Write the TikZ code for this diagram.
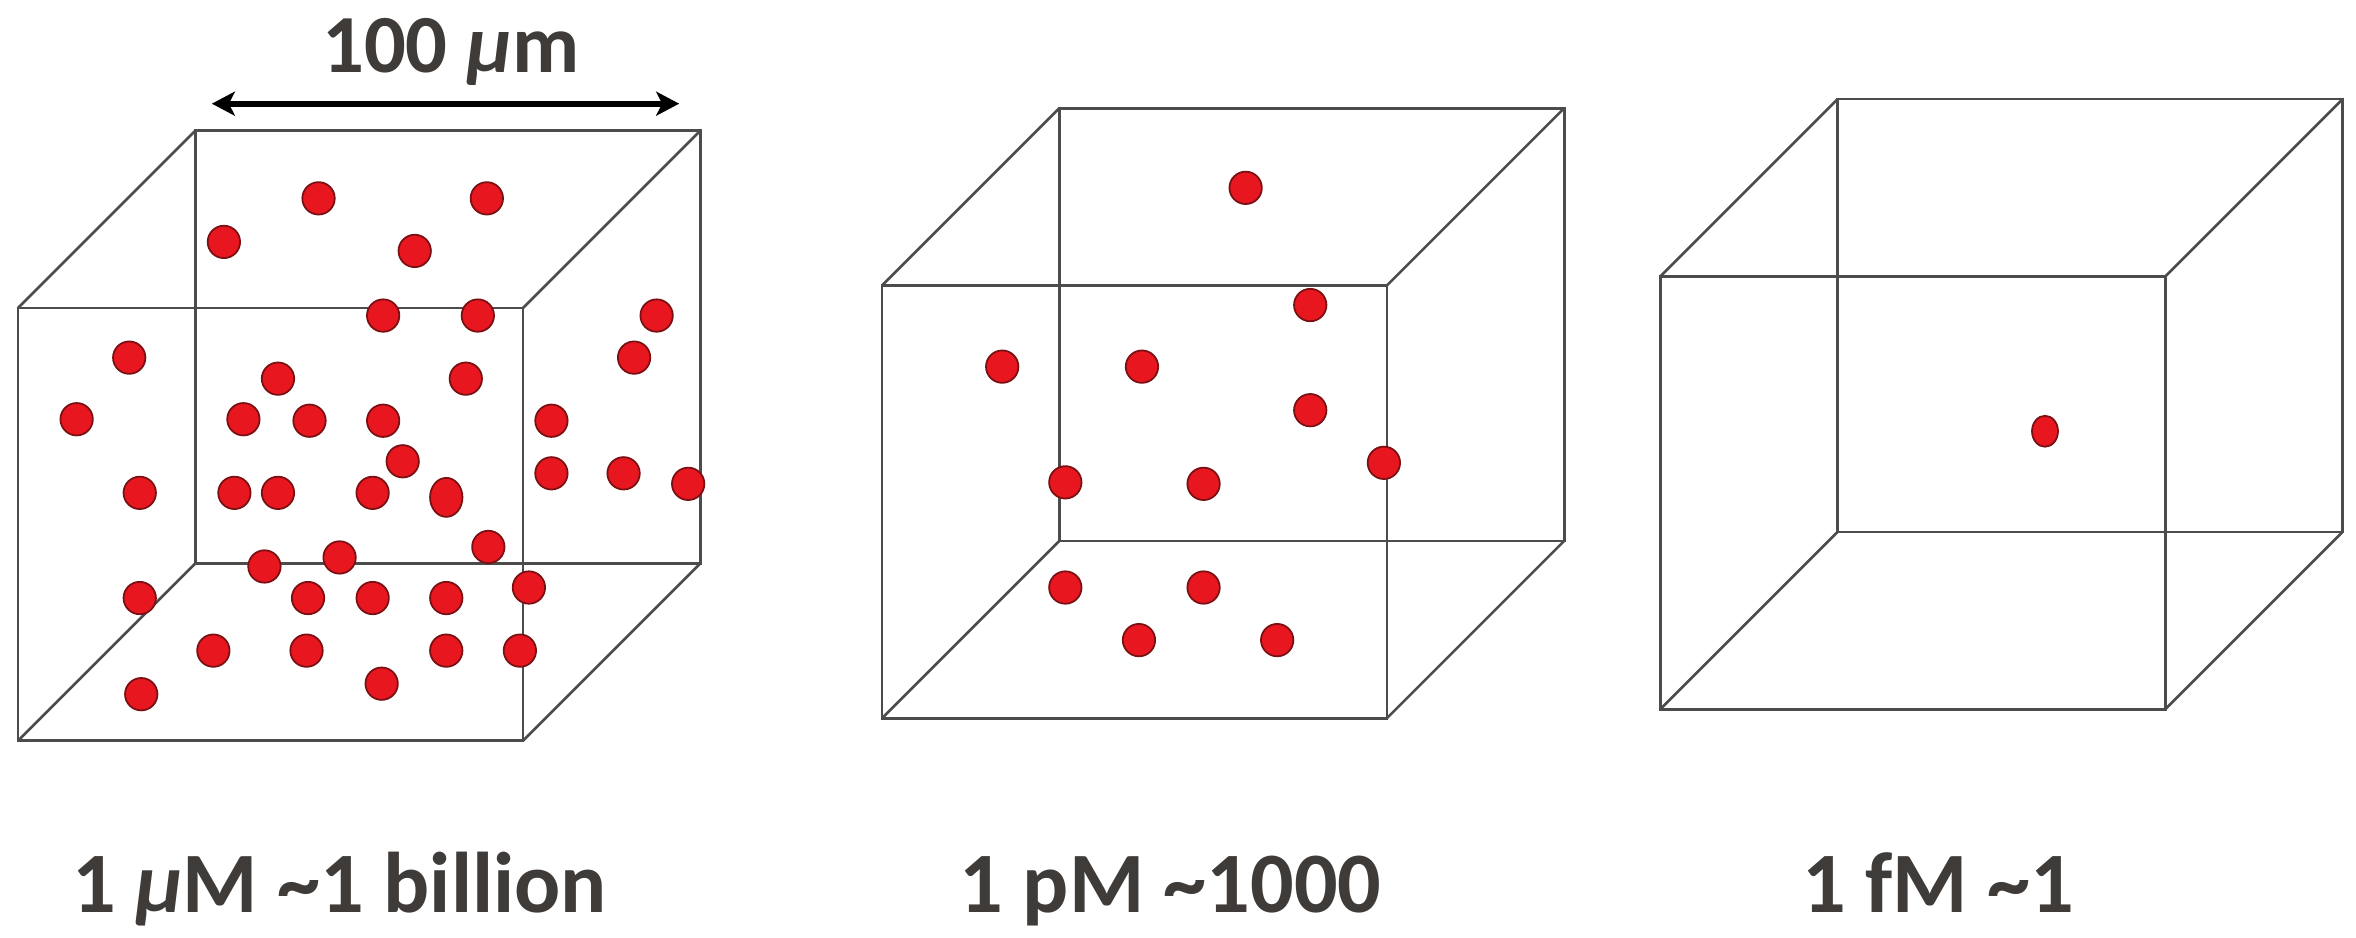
\documentclass[tikz,border=0pt]{standalone}
\usepackage{fontspec}
\setmainfont{Carlito}
\usepackage{xcolor}
\usepackage{tikz}
\usetikzlibrary{arrows.meta,positioning,calc}

\definecolor{txtgray}{HTML}{3F3B39}
\definecolor{molred}{HTML}{E8171F}
\definecolor{moledge}{HTML}{7A1014}

\begin{document}
\begin{tikzpicture}[
            x=0.15026mm, y=-0.15026mm,
            every node/.style={font=\fontsize{24.5}{29}\selectfont\bfseries, text=txtgray, inner sep=0pt},
            edge/.style={draw=black!70, line width=0.75pt},
            mol/.style={fill=molred, draw=moledge, line width=0.5pt},
            bartip/.tip={Stealth[length=2.3mm,width=2.4mm,inset=0.6mm]},
        ]
            \useasboundingbox (0,0) rectangle (1568,624);
            % wire-frame boxes
            \foreach \bx/\by in {12/205, 587/190, 1105/184}{
                \draw[edge] (\bx,\by) rectangle ++(336,288);
                \draw[edge] (\bx+118,\by-118) rectangle ++(336,288);
                \foreach \cx/\cy in {0/0, 336/0, 0/288, 336/288}
                    \draw[edge] (\bx+\cx,\by+\cy) -- ++(118,-118);
            }
            % 1 uM box
            \foreach \p in {(212,132),(324,132),(149,161),(276,167),(255,210),(318,210),(437,210),
                (86,238),(422,238),(185,252),(310,252),(51,279),(162,279),(206,280),(255,280),
                (367,280),(268,307),(367,315),(415,315),(458,322),(93,328),(156,328),(185,328),
                (248,328),(325,364),(226,371),(176,377),(352,391),(93,398),(205,398),(248,398),
                (297,398),(142,433),(204,433),(297,433),(346,433),(254,455),(94,462)}
                \filldraw[mol] \p circle[radius=1.62mm];
            \filldraw[mol] (297,331) ellipse[x radius=1.62mm, y radius=1.95mm];
            % 1 pM box
            \foreach \p in {(829,125),(872,203),(667,244),(760,244),(872,273),(921,308),
                (709,321),(801,322),(709,391),(801,391),(758,426),(850,426)}
                \filldraw[mol] \p circle[radius=1.62mm];
            % 1 fM box
            \filldraw[mol] (1361,287) ellipse[x radius=1.3mm, y radius=1.55mm];
            % scale bar
            \coordinate (sl) at (141,69);
            \coordinate (sr) at (452,69);
            \draw[bartip-bartip, line width=1.8pt] (sl) -- (sr);
            \node[anchor=base, font=\fontsize{23.5}{28}\selectfont\bfseries] (scale) at (300,48) {100 {\itshape μ}m};
            % labels
            \node[anchor=base] (um) at (226,607) {1 {\itshape μ}M \textasciitilde1 billion};
            \node[anchor=base] (pm) at (779,607) {1 pM \textasciitilde1000};
            \node[anchor=base] (fm) at (1290,607) {1 fM \textasciitilde1};
        \end{tikzpicture}
\end{document}
